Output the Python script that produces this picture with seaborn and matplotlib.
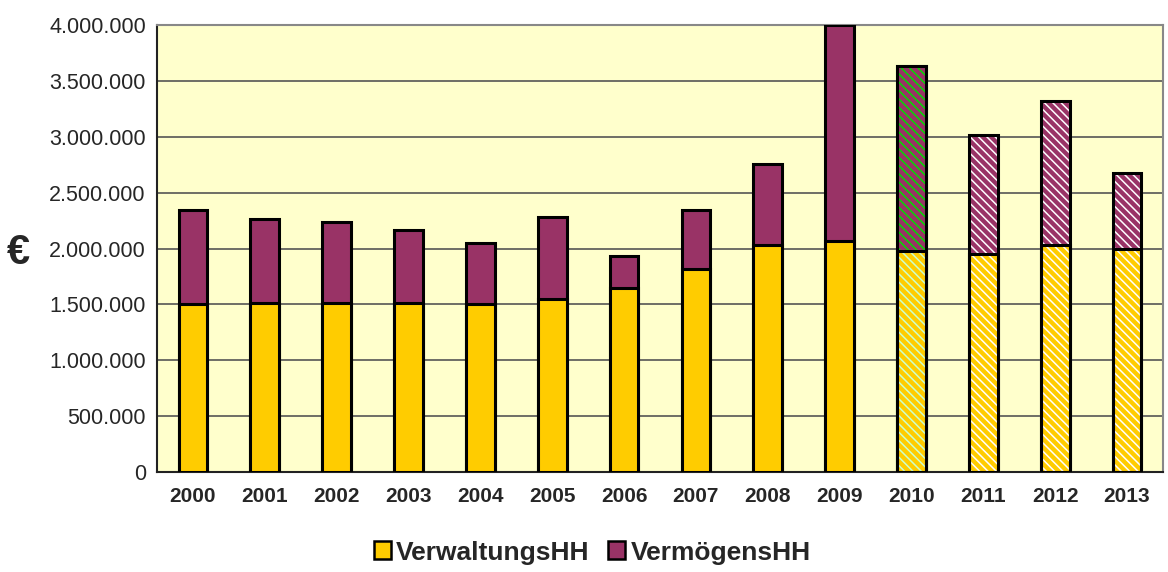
import pandas as pd
import seaborn as sns
import matplotlib.pyplot as plt
from matplotlib.patches import Patch, Rectangle
from matplotlib.ticker import FuncFormatter, MultipleLocator

# Werte
jahre = ['2000', '2001', '2002', '2003', '2004', '2005', '2006',
         '2007', '2008', '2009', '2010', '2011', '2012', '2013']
verwaltung = [1500000, 1515000, 1515000, 1515000, 1506000, 1548000, 1646000,
              1821000, 2030000, 2071000, 1982000, 1953000, 2027000, 1997000]
vermoegen = [845000, 747000, 721000, 652000, 545000, 732000, 286000,
             522000, 726000, 1929000, 1652000, 1062000, 1294000, 682000]
# Planjahre (schraffiert)
plan = ['2010', '2011', '2012', '2013']

gelb = '#FFCC00'
lila = '#993366'

df = pd.DataFrame({'Jahr': jahre, 'VerwaltungsHH': verwaltung, 'VermögensHH': vermoegen})
df['Gesamt'] = df['VerwaltungsHH'] + df['VermögensHH']

sns.set_style('white')
plt.rcParams['font.family'] = ['Liberation Sans', 'DejaVu Sans']
plt.rcParams['hatch.linewidth'] = 1.1

fig = plt.figure(figsize=(11.68, 5.72), dpi=100)
ax = fig.add_axes([0.1344, 0.1748, 0.8613, 0.7815])
ax.set_facecolor('#FFFFCC')

# gestapelt: erst Gesamt (lila), dann Verwaltung (gelb) darüber
sns.barplot(data=df, x='Jahr', y='Gesamt', color=lila, saturation=1, width=0.4,
            edgecolor='black', linewidth=2.2, ax=ax, zorder=3)
sns.barplot(data=df, x='Jahr', y='VerwaltungsHH', color=gelb, saturation=1, width=0.4,
            edgecolor='black', linewidth=2.2, ax=ax, zorder=3)

# Schraffur für die Planjahre
n = len(jahre)
oben = ax.patches[:n]
unten = ax.patches[n:2 * n]
for i, j in enumerate(jahre):
    if j not in plan:
        continue
    for p, hc in [(oben[i], '#00DD00' if j == '2010' else 'white'),
                  (unten[i], '#CCFFCC' if j == '2010' else 'white')]:
        p.set_hatch('\\\\\\\\')
        p.set_edgecolor(hc)
        ax.add_patch(Rectangle(p.get_xy(), p.get_width(), p.get_height(), fill=False,
                               edgecolor='black', linewidth=2.2, zorder=4))

ax.set_xlim(-0.5, n - 0.5)
ax.set_ylim(0, 4000000)
ax.yaxis.set_major_locator(MultipleLocator(500000))
ax.yaxis.set_major_formatter(FuncFormatter(lambda v, p: f'{int(v):,}'.replace(',', '.')))
ax.grid(axis='y', color='#555555', linewidth=1.2, zorder=0)
ax.set_axisbelow(True)

ax.xaxis.set_minor_locator(MultipleLocator(1, offset=0.5))
ax.tick_params(axis='x', which='major', length=0, pad=11, labelsize=15)
ax.tick_params(axis='x', which='minor', length=6, width=1.2, color='#333333', direction='out')
ax.tick_params(axis='y', length=6, width=1.2, color='#333333', direction='out', labelsize=15.5, pad=2)
for t in ax.get_xticklabels():
    t.set_fontweight('bold')

for s in ['left', 'bottom']:
    ax.spines[s].set_color('#222222')
    ax.spines[s].set_linewidth(1.5)
for s in ['top', 'right']:
    ax.spines[s].set_color('#888888')
    ax.spines[s].set_linewidth(1.5)

ax.set_xlabel('')
ax.set_ylabel('€', rotation=0, fontsize=30, fontweight='bold', va='center', ha='center')
ax.yaxis.set_label_coords(-0.138, 0.49)

handles = [Patch(facecolor=gelb, edgecolor='black', linewidth=1.8, label='VerwaltungsHH'),
           Patch(facecolor=lila, edgecolor='black', linewidth=1.8, label='VermögensHH')]
fig.legend(handles=handles, loc='center', bbox_to_anchor=(0.507, 0.034), ncol=2,
           frameon=False, prop={'weight': 'bold', 'size': 19},
           handlelength=0.65, handleheight=0.65, handletextpad=0.2, columnspacing=0.7)

plt.savefig('out.png', dpi=100)
